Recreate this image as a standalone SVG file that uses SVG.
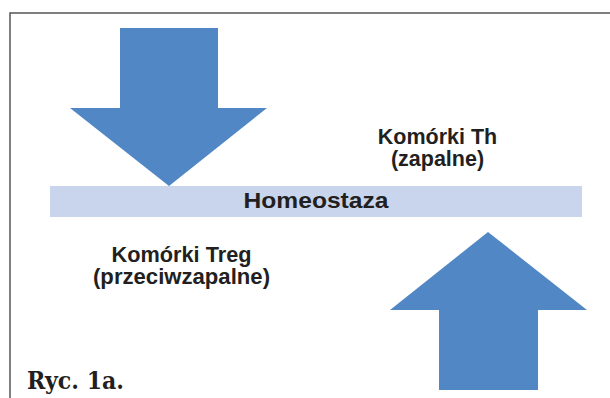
<svg xmlns="http://www.w3.org/2000/svg" width="610" height="398" viewBox="0 0 610 398">
<style>
.arrow{fill:#5087c4}
.lbl{font-family:"Liberation Sans",Arial,sans-serif;font-weight:bold;font-size:21.5px;fill:#231f20;text-anchor:middle}
.frame{fill:none;stroke:#555;stroke-width:1.5}
</style>
<rect width="610" height="398" fill="#fff"/>
<path class="frame" d="M10,398 V13 H610"/>
<g id="arrow-down"><polygon class="arrow" points="120,28 218,28 218,108 267,108 169,186 70,108 120,108"/></g>
<g id="arrow-up"><polygon class="arrow" points="488,232 587,310 538,310 538,390 439,390 439,310 390,310"/></g>
<g id="homeostaza">
<rect x="50" y="186" width="532" height="31" fill="#c9d5ec"/>
<text class="lbl" x="316" y="208" style="font-size:22.5px" textLength="145" lengthAdjust="spacingAndGlyphs">Homeostaza</text>
</g>
<g id="th">
<text class="lbl" x="437.5" y="144">Komórki Th</text>
<text class="lbl" x="437.5" y="166">(zapalne)</text>
</g>
<g id="treg">
<text class="lbl" x="181.5" y="262" textLength="140" lengthAdjust="spacingAndGlyphs">Komórki Treg</text>
<text class="lbl" x="181.5" y="284" textLength="177" lengthAdjust="spacingAndGlyphs">(przeciwzapalne)</text>
</g>
<text x="27" y="389" font-family="'DejaVu Serif',serif" font-weight="bold" font-size="24" fill="#231f20" textLength="97" lengthAdjust="spacingAndGlyphs">Ryc. 1a.</text>
<g id="connectors"/>
</svg>
